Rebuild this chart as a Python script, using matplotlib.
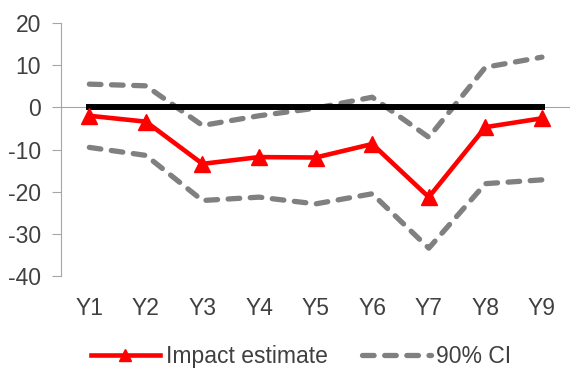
import numpy as np
import matplotlib.pyplot as plt
from matplotlib.lines import Line2D

plt.rcParams['font.family'] = ['Liberation Sans', 'DejaVu Sans']
plt.rcParams['axes.unicode_minus'] = False

years = ['Y1', 'Y2', 'Y3', 'Y4', 'Y5', 'Y6', 'Y7', 'Y8', 'Y9']
impact = [-2.0, -3.4, -13.4, -11.8, -11.9, -8.7, -21.3, -4.7, -2.6]
ci_upper = [5.5, 5.1, -4.3, -2.0, -0.2, 2.4, -7.1, 9.5, 11.9]
ci_lower = [-9.5, -11.4, -22.1, -21.3, -22.9, -20.5, -33.4, -18.1, -17.2]
zero = [0] * len(years)

text_col = '#404040'
gray = '#808080'
dash_style = dict(color=gray, lw=3.8, dashes=(2.2, 2.0), dash_capstyle='round')

fig = plt.figure(figsize=(5.76, 3.68), dpi=100)
ax = fig.add_axes([0.106, 0.25, 0.884, 0.6875])

x = np.arange(len(years))

# category axis line at zero
ax.axhline(0, color='#a6a6a6', lw=0.8, zorder=1)

ax.plot(x, ci_upper, zorder=2, **dash_style)
ax.plot(x, ci_lower, zorder=2, **dash_style)
ax.plot(x, zero, color='black', lw=4.3, zorder=3)
ax.plot(x, impact, color='#ff0000', lw=3.3, marker='^', ms=12, zorder=4)

ax.set_xlim(-0.5, len(years) - 0.5)
ax.set_ylim(-40, 20)
ax.set_yticks(np.arange(-40, 21, 10))
ax.set_xticks(x)
ax.set_xticklabels(years)

for s in ['top', 'right', 'bottom']:
    ax.spines[s].set_visible(False)
ax.spines['left'].set_color('#a6a6a6')
ax.tick_params(axis='y', colors='#a6a6a6', labelcolor=text_col, labelsize=16.5, length=6.5, pad=8)
ax.tick_params(axis='x', length=0, labelcolor=text_col, labelsize=16.5, pad=15)

handles = [
    Line2D([], [], color='#ff0000', lw=3.3, marker='^', ms=8),
    Line2D([], [], **dash_style),
]
fig.legend(handles, ['Impact estimate', '90% CI'], loc='center', bbox_to_anchor=(0.523, 0.03),
           ncol=2, frameon=False, fontsize=16.5, handlelength=3.0, handletextpad=0.25,
           columnspacing=1.5, labelcolor=text_col)

fig.savefig('out.png', dpi=100)
